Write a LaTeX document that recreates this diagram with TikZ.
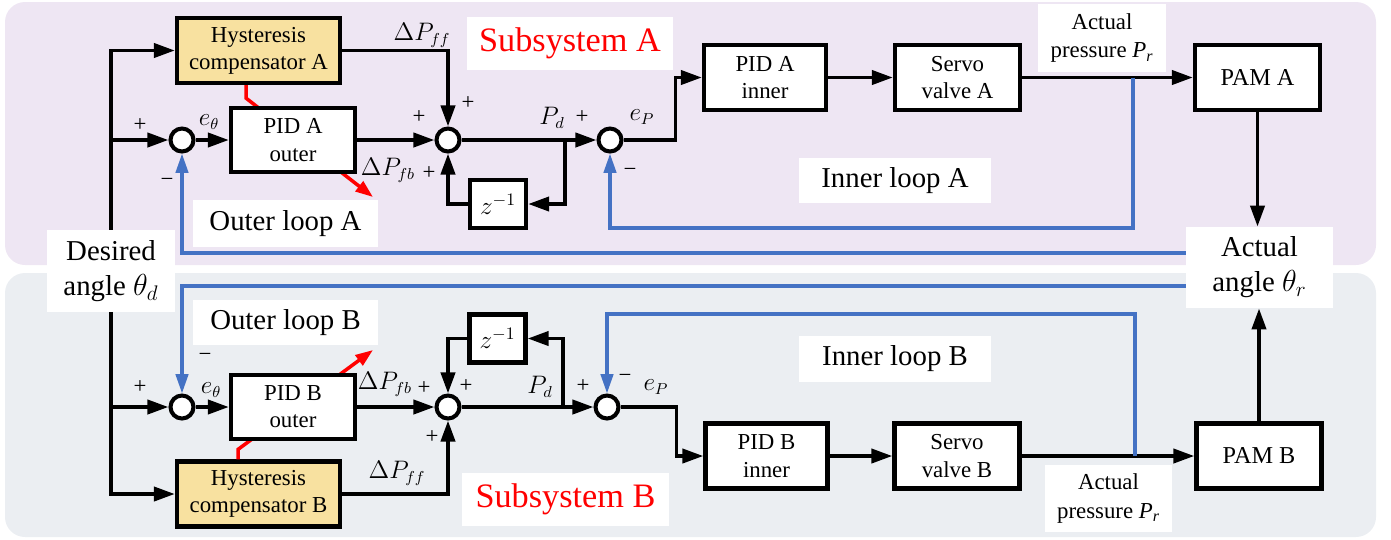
\documentclass[tikz,border=0pt]{standalone}
\usepackage{fontspec}
\setmainfont{Liberation Serif}
\usetikzlibrary{arrows.meta,calc}
\definecolor{panelA}{HTML}{EEE6F3}
\definecolor{panelB}{HTML}{EBEEF2}
\definecolor{hysfill}{HTML}{F8E1A0}
\definecolor{fbblue}{HTML}{4472C4}
\newcommand{\fsblk}{\fontsize{13}{15.5}\selectfont}
\newcommand{\fsloop}{\fontsize{16.4}{20}\selectfont}
\newcommand{\fssub}{\fontsize{19.5}{23}\selectfont}
\tikzset{
  blk/.style={draw, line width=2.4pt, fill=white, align=center, font=\fsblk, inner sep=0pt},
  hys/.style={blk, fill=hysfill},
  sumc/.style={circle, draw, line width=2.3pt, fill=white, minimum size=0.46cm, inner sep=0pt},
  conn/.style={line width=2.2pt, -{Triangle[length=12pt,width=8pt]}},
  fb/.style={line width=1.9pt, draw=fbblue, -{Triangle[length=11pt,width=7pt,fill=fbblue]}},
  gain/.style={line width=2pt, draw=red, -{Triangle[length=10pt,width=7pt,fill=red]}},
  lbl/.style={fill=white, align=center, inner sep=0pt},
  sgn/.style={font=\fsblk, inner sep=0pt},
  mlbl/.style={font=\fontsize{13.5}{16}\selectfont, inner sep=0pt},
}
\begin{document}
\begin{tikzpicture}[x=0.02cm, y=-0.02cm]
\useasboundingbox (0,0) rectangle (1391,539);
% panels
\fill[panelA, rounded corners=0.4cm] (5,2) rectangle (1376,265);
\fill[panelB, rounded corners=0.4cm] (5,273) rectangle (1376,537);

% hysteresis compensators
\node[hys, minimum width=3.26cm, minimum height=1.3cm] (hysA) at (258.5,50.5) {Hysteresis\\compensator A};
\node[hys, minimum width=3.26cm, minimum height=1.3cm] (hysB) at (258.5,494) {Hysteresis\\compensator B};

% gain scheduling arrows (pass under the PID blocks)
\coordinate (gainA) at (373,197);
\coordinate (gainB) at (373,350);
\draw[gain] ([xshift=-0.25cm]hysA.south) -- ++(0,13) -- (gainA);
\draw[gain] ([xshift=-0.41cm]hysB.north) -- ++(0,-10) -- (gainB);

% subsystem A blocks
\node[sumc] (sumA1) at (182,140) {};
\node[blk, minimum width=2.48cm, minimum height=1.28cm] (pidAo) at (293,140) {PID A\\outer};
\node[sumc] (sumA2) at (448,140) {};
\node[blk, minimum width=1.12cm, minimum height=0.96cm] (zA) at (498,204) {\fontsize{14}{16}\selectfont$z^{-1}$};
\node[sumc] (sumA3) at (610,140) {};
\node[blk, minimum width=2.44cm, minimum height=1.3cm] (pidAi) at (765,77.5) {PID A\\inner};
\node[blk, minimum width=2.5cm, minimum height=1.3cm] (servoA) at (957.5,77.5) {Servo\\valve A};
\node[blk, minimum width=2.5cm, minimum height=1.3cm, font=\fontsize{13.8}{16}\selectfont] (pamA) at (1257.5,77.5) {PAM A};

% subsystem B blocks
\node[sumc] (sumB1) at (182,407) {};
\node[blk, minimum width=2.48cm, minimum height=1.28cm] (pidBo) at (293,407) {PID B\\outer};
\node[sumc] (sumB2) at (448,407) {};
\node[blk, minimum width=1.12cm, minimum height=0.96cm] (zB) at (497.5,338.5) {\fontsize{14}{16}\selectfont$z^{-1}$};
\node[sumc] (sumB3) at (607,407) {};
\node[blk, minimum width=2.44cm, minimum height=1.3cm] (pidBi) at (766.5,456) {PID B\\inner};
\node[blk, minimum width=2.5cm, minimum height=1.3cm] (servoB) at (957,456) {Servo\\valve B};
\node[blk, minimum width=2.5cm, minimum height=1.3cm, font=\fontsize{13.8}{16}\selectfont] (pamB) at (1259,456) {PAM B};

% white labels
\node[lbl, font=\fontsize{13}{16.5}\selectfont, minimum width=2.56cm, minimum height=1.36cm] (presA) at (1102,38) {Actual\\pressure \textit{P\textsubscript{r}}};
\node[lbl, font=\fontsize{13}{16.5}\selectfont, minimum width=2.54cm, minimum height=1.34cm] (presB) at (1108.5,498.5) {Actual\\pressure \textit{P\textsubscript{r}}};
\node[lbl, font=\fsloop, minimum width=2.94cm, minimum height=1.62cm] (angleR) at (1259.5,267.5) {Actual\\angle $\theta_r$};
\node[lbl, font=\fsloop, minimum width=2.56cm, minimum height=1.64cm] (desired) at (111,271) {Desired\\angle $\theta_d$};
\node[lbl, font=\fssub, text=red, minimum width=4.12cm, minimum height=1.06cm] (subA) at (570,43.5) {Subsystem A};
\node[lbl, font=\fssub, text=red, minimum width=4.14cm, minimum height=1.06cm] (subB) at (565.5,499.5) {Subsystem B};
\node[lbl, font=\fsloop, minimum width=3.84cm, minimum height=0.9cm] (innerA) at (895,180.5) {Inner loop A};
\node[lbl, font=\fsloop, minimum width=3.84cm, minimum height=0.92cm] (innerB) at (895,359) {Inner loop B};
\node[lbl, font=\fsloop, minimum width=3.7cm, minimum height=0.94cm] (outerA) at (285.5,223.5) {Outer loop A};
\node[lbl, font=\fsloop, minimum width=3.7cm, minimum height=0.9cm] (outerB) at (285.5,322.5) {Outer loop B};

% signal connectors, subsystem A
\draw[conn] (desired.north) |- (hysA.west);
\draw[conn] (desired.north |- sumA1) -- (sumA1.west);
\draw[conn] (sumA1) -- (pidAo);
\draw[conn] (pidAo) -- (sumA2);
\draw[conn] (hysA.east) -| (sumA2.north);
\draw[conn] (sumA2) -- (sumA3);
\coordinate (brA) at (565,140);
\draw[conn] (brA) |- (zA.east);
\draw[conn] (zA.west) -| (sumA2.south);
\draw[conn] (sumA3.east) -- ++(52,0) |- (pidAi.west);
\draw[conn] (pidAi) -- (servoA);
\draw[conn] (servoA) -- (pamA);
\draw[conn] (pamA.south) -- (pamA.south |- angleR.north);

% signal connectors, subsystem B
\draw[conn] (desired.south) |- (hysB.west);
\draw[conn] (desired.south |- sumB1) -- (sumB1.west);
\draw[conn] (sumB1) -- (pidBo);
\draw[conn] (pidBo) -- (sumB2);
\draw[conn] (hysB.east) -| (sumB2.south);
\draw[conn] (sumB2) -- (sumB3);
\coordinate (brB) at (563,407);
\draw[conn] (brB) |- (zB.east);
\draw[conn] (zB.west) -| (sumB2.north);
\draw[conn] (sumB3.east) -- ++(56,0) |- (pidBi.west);
\draw[conn] (pidBi) -- (servoB);
\draw[conn] (servoB) -- (pamB);
\draw[conn] (pamB.north) -- (pamB.north |- angleR.south);

% feedback loops
\coordinate (tapA) at (1133,77.5);
\coordinate (ilA) at (1133,228);
\draw[fb] (tapA) -- (ilA) -| (sumA3.south);
\draw[fb] ([yshift=0.29cm]angleR.west) -| (sumA1.south);
\coordinate (tapB) at (1135,456);
\coordinate (ilB) at (1135,314);
\draw[fb] (tapB) -- (ilB) -| (sumB3.north);
\draw[fb] ([yshift=-0.37cm]angleR.west) -| (sumB1.north);

% signal names and signs, subsystem A
\node[mlbl] (dffA) at (422,35) {$\Delta P_{ff}$};
\node[mlbl] (dfbA) at (388,170) {$\Delta P_{fb}$};
\node[mlbl] (etA) at (209,122) {$e_\theta$};
\node[mlbl] (pdA) at (552,118) {$P_d$};
\node[mlbl] (epA) at (642,117) {$e_P$};
\node[sgn] at (140,125) {+};
\node[sgn] at (167,182) {−};
\node[sgn] at (468,103) {+};
\node[sgn] at (419,117) {+};
\node[sgn] at (429,173) {+};
\node[sgn] at (582,117) {+};
\node[sgn] at (630,172) {−};

% signal names and signs, subsystem B
\node[mlbl] (dffB) at (397,473) {$\Delta P_{ff}$};
\node[mlbl] (dfbB) at (385,384) {$\Delta P_{fb}$};
\node[mlbl] (etB) at (211,390) {$e_\theta$};
\node[mlbl] (pdB) at (540,387) {$P_d$};
\node[mlbl] (epB) at (656,387) {$e_P$};
\node[sgn] at (140,387) {+};
\node[sgn] at (205,357) {−};
\node[sgn] at (424,388) {+};
\node[sgn] at (466,386) {+};
\node[sgn] at (432,437) {+};
\node[sgn] at (583,386) {+};
\node[sgn] at (625,378) {−};
\end{tikzpicture}
\end{document}
